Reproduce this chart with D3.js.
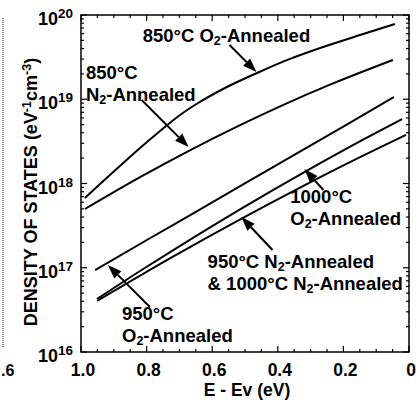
<!DOCTYPE html>
<html><head><meta charset="utf-8">
<script src="https://cdn.jsdelivr.net/npm/d3@7"></script>
<style>body{margin:0;background:#fff}svg text{font-family:"Liberation Sans",Arial,sans-serif;font-weight:bold;fill:#000}</style>
</head><body>
<svg id="c" width="420" height="400"></svg>
<script>
// ---- data ----
const xTickValues = [1.0, 0.8, 0.6, 0.4, 0.2, 0];
const xTickLabels = ["1.0", "0.8", "0.6", "0.4", "0.2", "0"];
const yTickExponents = [16, 17, 18, 19, 20];

const energy850O2 = [0.988, 0.942, 0.878, 0.820, 0.759, 0.698, 0.643, 0.561, 0.463, 0.363, 0.271, 0.149, 0.043];
const dos850O2    = [6.73e17, 9.87e17, 1.66e18, 2.64e18, 4.20e18, 6.50e18, 9.02e18, 1.36e19, 2.05e19, 3.01e19, 4.06e19, 5.79e19, 7.82e19];

const energy850N2 = [0.988, 0.820, 0.668, 0.515, 0.393, 0.241, 0.049];
const dos850N2    = [4.98e17, 1.19e18, 2.48e18, 4.93e18, 8.24e18, 1.49e19, 2.93e19];

const energy950O2 = [0.957, 0.790, 0.638, 0.486, 0.334, 0.182, 0.046];
const dos950O2    = [9.4e16, 2.24e17, 4.9e17, 1.08e18, 2.38e18, 5.2e18, 1.06e19];

const energy1000O2 = [0.951, 0.820, 0.704, 0.515, 0.323, 0.140, 0.021];
const dos1000O2    = [4.26e16, 9.15e16, 1.76e17, 4.94e17, 1.34e18, 3.32e18, 5.83e18];

const energyN2 = [0.951, 0.729, 0.509, 0.332, 0.180, 0.009];
const dosN2    = [4.03e16, 1.29e17, 3.86e17, 8.94e17, 1.79e18, 3.77e18];

// annotations (data units: energy, log10 density)
const arrowTails = [[0.547, 19.644], [0.815, 18.991], [0.790, 16.534], [0.261, 17.923], [0.416, 17.211]];
const arrowTips  = [[0.465, 19.323], [0.672, 18.433], [0.918, 17.033], [0.319, 18.172], [0.511, 17.602]];

const labelTexts = [
  [["850°C O"], ["2", "sub"], ["-Annealed"]],
  [["850°C"]],
  [["N"], ["2", "sub"], ["-Annealed"]],
  [["1000°C"]],
  [["O"], ["2", "sub"], ["-Annealed"]],
  [["950°C N"], ["2", "sub"], ["-Annealed"]],
  [["& 1000°C N"], ["2", "sub"], ["-Annealed"]],
  [["950°C"]],
  [["O"], ["2", "sub"], ["-Annealed"]]
];
const labelAnchors = [[0.812, 19.680], [0.985, 19.235], [0.985, 18.985], [0.362, 17.770], [0.362, 17.510],
                      [0.614, 16.997], [0.614, 16.736], [0.875, 16.375], [0.875, 16.115]];

// ---- drawing ----
const svg = d3.select("#c");
const x = d3.scaleLinear().domain([1.0, 0]).range([81, 409]);
const y = d3.scaleLog().domain([1e16, 1e20]).range([352, 15]);
const yl = v => y(Math.pow(10, v));
const FS = 18.5, SUB = 12.5;

// left-edge artefact from neighbouring figure
svg.append("line").attr("x1", 3).attr("x2", 3).attr("y1", 18).attr("y2", 348)
  .attr("stroke", "#666").attr("stroke-width", 1.5).attr("stroke-dasharray", "1,1");
svg.append("text").attr("x", 1).attr("y", 376).attr("font-size", 16).text(".6");

// frame
svg.append("rect").attr("x", x(1)).attr("y", y(1e20)).attr("width", x(0) - x(1)).attr("height", y(1e16) - y(1e20))
  .attr("fill", "none").attr("stroke", "#000").attr("stroke-width", 1.5);

// x ticks
const xMinor = d3.range(0, 21).map(i => i * 0.05);
xMinor.forEach(v => {
  const major = Math.abs(v * 5 - Math.round(v * 5)) < 1e-6;
  const len = major ? 6 : 3;
  svg.append("line").attr("x1", x(v)).attr("x2", x(v)).attr("y1", y(1e16)).attr("y2", y(1e16) - len).attr("stroke", "#000").attr("stroke-width", 1.2);
  svg.append("line").attr("x1", x(v)).attr("x2", x(v)).attr("y1", y(1e20)).attr("y2", y(1e20) + len).attr("stroke", "#000").attr("stroke-width", 1.2);
});
xTickValues.forEach((v, i) => {
  svg.append("text").attr("x", x(v) + 2).attr("y", 376).attr("text-anchor", "middle").attr("font-size", 17.5).text(xTickLabels[i]);
});
svg.append("text").attr("x", 247).attr("y", 396).attr("text-anchor", "middle").attr("font-size", 17.5).text("E - Ev (eV)");

// y ticks
yTickExponents.forEach(e => {
  if (e < 20) {
    for (let m = 2; m <= 9; m++) {
      const v = m * Math.pow(10, e);
      svg.append("line").attr("x1", x(1)).attr("x2", x(1) + 3).attr("y1", y(v)).attr("y2", y(v)).attr("stroke", "#000").attr("stroke-width", 1.2);
      svg.append("line").attr("x1", x(0)).attr("x2", x(0) - 3).attr("y1", y(v)).attr("y2", y(v)).attr("stroke", "#000").attr("stroke-width", 1.2);
    }
  }
  const v = Math.pow(10, e);
  svg.append("line").attr("x1", x(1)).attr("x2", x(1) + 6).attr("y1", y(v)).attr("y2", y(v)).attr("stroke", "#000").attr("stroke-width", 1.2);
  svg.append("line").attr("x1", x(0)).attr("x2", x(0) - 6).attr("y1", y(v)).attr("y2", y(v)).attr("stroke", "#000").attr("stroke-width", 1.2);
  const t = svg.append("text").attr("x", 73).attr("y", y(v) + 10).attr("text-anchor", "end").attr("font-size", 18);
  t.append("tspan").text("10");
  t.append("tspan").attr("font-size", 13.5).attr("dy", -7).text(String(e));
});

// y axis title
const yt = svg.append("text").attr("transform", "translate(37,192) rotate(-90)").attr("text-anchor", "middle").attr("font-size", 18);
yt.append("tspan").text("DENSITY OF STATES (eV");
yt.append("tspan").attr("font-size", 12.5).attr("dy", -6).text("-1");
yt.append("tspan").attr("dy", 6).text("cm");
yt.append("tspan").attr("font-size", 12.5).attr("dy", -6).text("-3");
yt.append("tspan").attr("dy", 6).text(")");

// curves
const series = [[energy850O2, dos850O2], [energy850N2, dos850N2], [energy950O2, dos950O2], [energy1000O2, dos1000O2], [energyN2, dosN2]];
const line = d3.line().x(d => x(d[0])).y(d => y(d[1])).curve(d3.curveMonotoneX);
series.forEach(([es, ds]) => {
  svg.append("path").datum(es.map((e, i) => [e, ds[i]])).attr("d", line)
    .attr("fill", "none").attr("stroke", "#000").attr("stroke-width", 2);
});

// arrows
arrowTails.forEach((t, i) => {
  const x1 = x(t[0]), y1 = yl(t[1]), x2 = x(arrowTips[i][0]), y2 = yl(arrowTips[i][1]);
  const a = Math.atan2(y2 - y1, x2 - x1), L = 14, W = 5;
  const bx = x2 - L * Math.cos(a), by = y2 - L * Math.sin(a);
  svg.append("line").attr("x1", x1).attr("y1", y1).attr("x2", bx).attr("y2", by).attr("stroke", "#000").attr("stroke-width", 2);
  svg.append("path").attr("d", `M${x2},${y2}L${bx + W * Math.sin(a)},${by - W * Math.cos(a)}L${bx - W * Math.sin(a)},${by + W * Math.cos(a)}Z`).attr("fill", "#000");
});

// labels
labelTexts.forEach((parts, i) => {
  const t = svg.append("text").attr("x", x(labelAnchors[i][0])).attr("y", yl(labelAnchors[i][1])).attr("font-size", FS);
  parts.forEach((p, j) => {
    if (p[1] === "sub") t.append("tspan").attr("font-size", SUB).attr("dy", 3).text(p[0]);
    else { const s = t.append("tspan").text(p[0]); if (j > 0) s.attr("dy", -3); }
  });
});
</script>
</body></html>
